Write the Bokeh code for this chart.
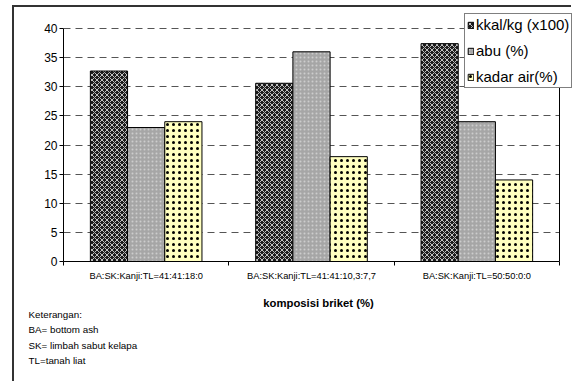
from bokeh.plotting import figure
from bokeh.models import (ColumnDataSource, Range1d, FixedTicker, Legend, LegendItem,
                          Title)
from bokeh.transform import dodge
from bokeh.embed import file_html
from bokeh.resources import INLINE

# Briquette compositions and measured properties
categories = ["BA:SK:Kanji:TL=41:41:18:0",
              "BA:SK:Kanji:TL=41:41:10,3:7,7",
              "BA:SK:Kanji:TL=50:50:0:0"]
kkal = [32.7, 30.6, 37.4]      # kkal/kg (x100)
abu = [23.0, 36.0, 24.0]       # abu (%)
kadar_air = [24.0, 18.0, 14.0] # kadar air (%)

y_ticks = [0, 5, 10, 15, 20, 25, 30, 35, 40]
notes = ["Keterangan:", "BA= bottom ash", "SK= limbah sabut kelapa", "TL=tanah liat"]

FONT = "Liberation Sans"
n = len(categories)
y_max = y_ticks[-1]

# canvas geometry (the chart-area border is drawn with CSS around the canvas)
W, H = 559, 376
left, bottom = 49, 122
frame_h = H - bottom
frame_w = W - left
plot_top = 21          # where the top tick sits inside the frame
plot_w = 496           # width of the category area

src = ColumnDataSource(dict(
    pos=[i + 0.5 for i in range(n)],
    kkal=kkal, abu=abu, kadar=kadar_air,
))

p = figure(width=W, height=H, output_backend="svg", toolbar_location=None,
           x_range=Range1d(0, n * frame_w / plot_w),
           y_range=Range1d(0, y_max * frame_h / (frame_h - plot_top)),
           min_border_left=left, min_border_right=0, min_border_top=0,
           min_border_bottom=bottom, background_fill_color="white",
           border_fill_color="white", outline_line_color=None,
           styles={"border-left": "2px solid #333333",
                   "border-top": "2px solid #333333",
                   "margin-left": "12px", "margin-top": "5px"})

bw = 0.225
r1 = p.vbar(x=dodge("pos", -bw, range=p.x_range), top="kkal", width=bw, source=src,
            fill_color="#1c1c1c", hatch_pattern="diagonal_cross", hatch_color="#c0c0c0",
            hatch_scale=5, hatch_weight=1, line_color="black", line_width=1)
r2 = p.vbar(x=dodge("pos", 0, range=p.x_range), top="abu", width=bw, source=src,
            fill_color="#a6a6a6", hatch_pattern="dot", hatch_color="#cdcdcd",
            hatch_scale=4, hatch_weight=1, line_color="black", line_width=1)
r3 = p.vbar(x=dodge("pos", bw, range=p.x_range), top="kadar", width=bw, source=src,
            fill_color="#ffffc0", hatch_pattern="dot", hatch_color="black",
            hatch_scale=6, hatch_weight=4, line_color="black", line_width=1)

# right edge of the category area
p.segment(x0=[n], x1=[n], y0=[0], y1=[y_max], line_color="black", line_width=1)

# y axis and dashed gridlines
p.yaxis.ticker = FixedTicker(ticks=y_ticks)
p.yaxis.bounds = (0, y_max)
p.yaxis.major_tick_out = 4
p.yaxis.major_tick_in = 0
p.yaxis.minor_tick_line_color = None
p.yaxis.axis_line_color = "black"
p.yaxis.major_tick_line_color = "black"
p.yaxis.major_label_standoff = 2
p.yaxis.major_label_text_font = FONT
p.yaxis.major_label_text_font_size = "12px"
p.yaxis.major_label_text_color = "black"
p.ygrid.ticker = FixedTicker(ticks=y_ticks)
p.ygrid.cross_bounds = (0, n)
p.ygrid.grid_line_color = "#555555"
p.ygrid.grid_line_dash = "7 5"
p.ygrid.grid_line_width = 1
p.xgrid.grid_line_color = None

# x axis: labels at group centres, tick marks at group boundaries
p.xaxis.ticker = FixedTicker(ticks=[i + 0.5 for i in range(n)],
                             minor_ticks=list(range(n + 1)))
p.xaxis.bounds = (0, n)
p.xaxis.major_label_overrides = {i + 0.5: c for i, c in enumerate(categories)}
p.xaxis.major_tick_out = 0
p.xaxis.major_tick_in = 0
p.xaxis.minor_tick_out = 4
p.xaxis.minor_tick_in = 0
p.xaxis.minor_tick_line_color = "black"
p.xaxis.axis_line_color = "black"
p.xaxis.major_label_standoff = 5
p.xaxis.major_label_text_font = FONT
p.xaxis.major_label_text_font_size = "9.3px"
p.xaxis.major_label_text_color = "black"
p.xaxis.axis_label = "komposisi briket (%)"
p.xaxis.axis_label_text_font = FONT
p.xaxis.axis_label_text_font_style = "bold"
p.xaxis.axis_label_text_font_size = "11.3px"
p.xaxis.axis_label_text_color = "black"
p.xaxis.axis_label_standoff = 13

legend = Legend(items=[LegendItem(label="kkal/kg (x100)", renderers=[r1]),
                       LegendItem(label="abu (%)", renderers=[r2]),
                       LegendItem(label="kadar air(%)", renderers=[r3])],
                location=(401, 173), orientation="vertical",
                label_text_font=FONT, label_text_font_size="15px",
                label_text_color="black", label_height=16, label_standoff=2,
                glyph_width=7, glyph_height=8, spacing=9, padding=2, margin=0,
                border_line_color="black", border_line_width=1,
                background_fill_color="white", background_fill_alpha=1)
p.add_layout(legend)

# explanatory notes under the axis title
p.add_layout(Title(text="\n".join(notes), align="left", offset=-35, standoff=-9,
                   text_font=FONT, text_font_size="9.8px", text_font_style="normal",
                   text_color="black", text_line_height=1.4), "below")

open("out.html", "w").write(file_html(p, INLINE))
